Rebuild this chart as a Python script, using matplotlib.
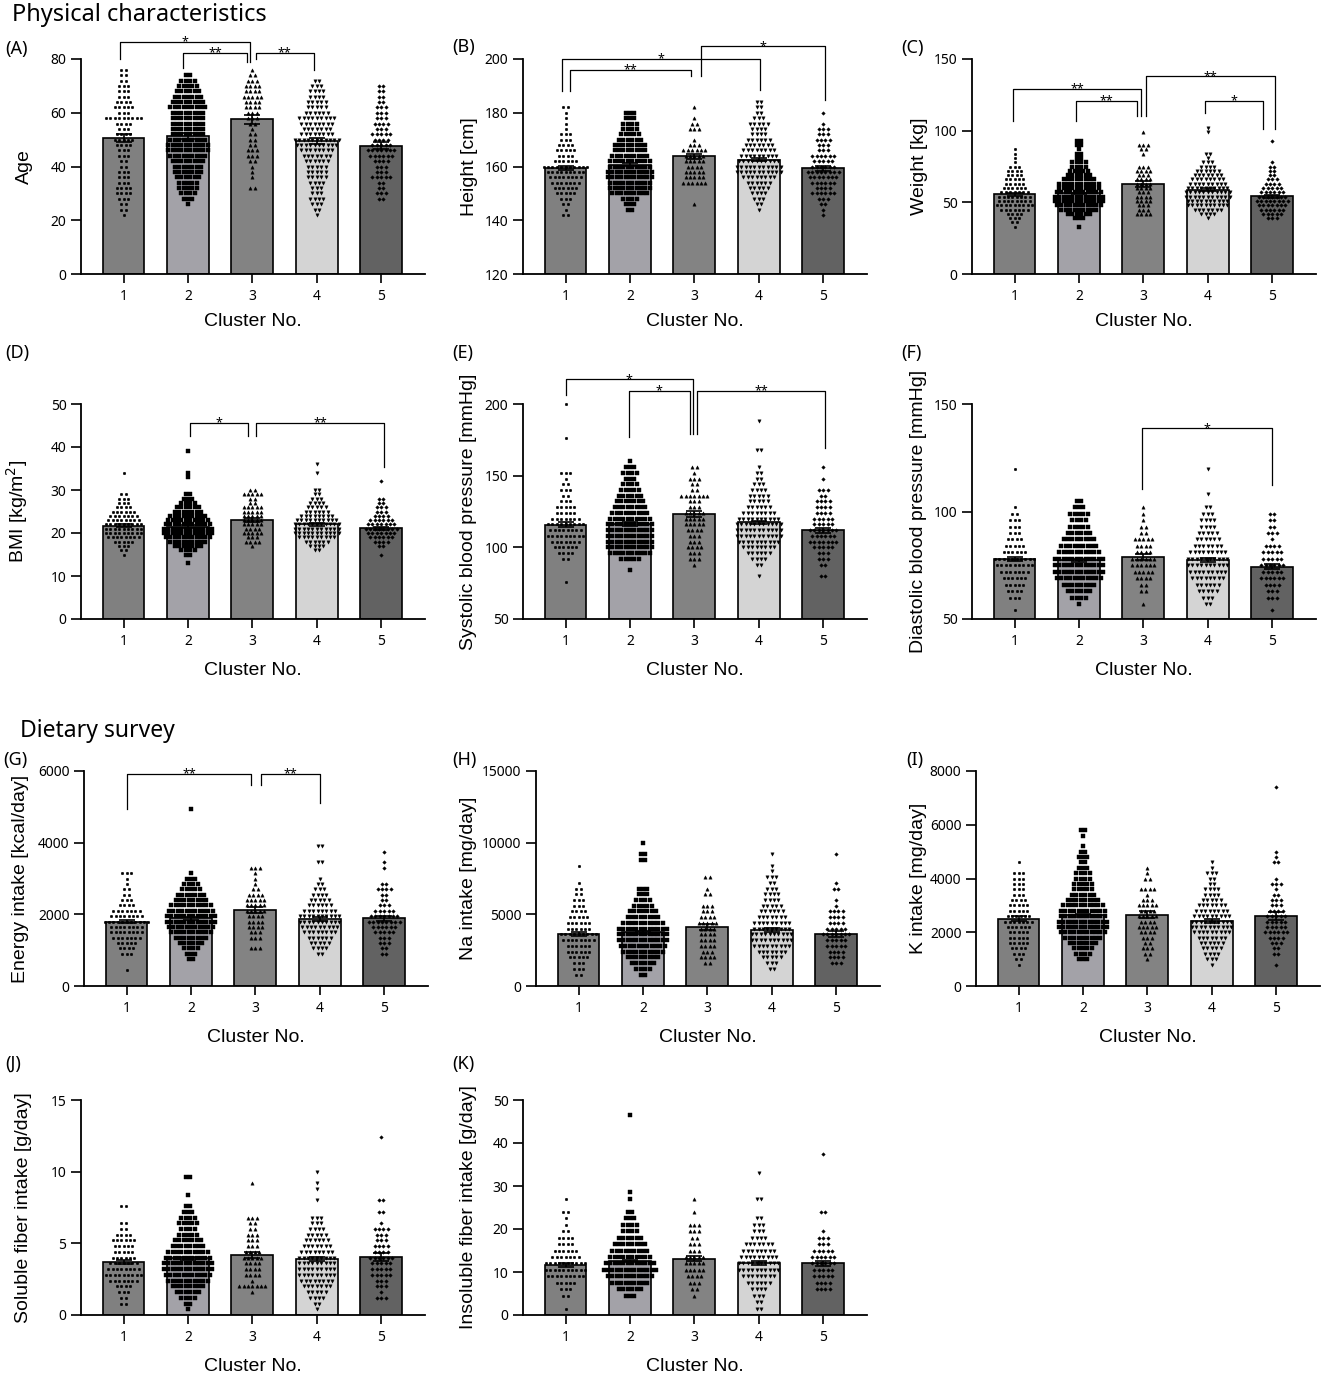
import matplotlib.pyplot as plt
import numpy as np

W, H = 1325, 1379

clusters = [1, 2, 3, 4, 5]
bar_colors = ["#808080", "#a3a2a8", "#838383", "#d4d4d4", "#626262"]
markers = ["o", "s", "^", "v", "D"]
marker_sizes = [1.9, 2.3, 2.4, 2.4, 1.8]

# %% Data (swarm rows: count of dots per value row, first row value per cluster)

age_step = 2
age_lo = [22, 26, 32, 22, 28]
age_n = [
    [1, 2, 2, 3, 4, 4, 3, 3, 3, 2, 2, 3, 3, 4, 5, 4, 3, 4, 9, 3, 5, 4, 3, 3, 3, 2, 2, 2],
    [1, 3, 4, 5, 5, 6, 7, 7, 8, 9, 10, 10, 9, 8, 8, 8, 8, 8, 9, 8, 7, 6, 5, 4, 2],
    [2, 0, 1, 1, 1, 2, 3, 3, 2, 2, 2, 1, 2, 3, 3, 4, 4, 5, 4, 4, 3, 2, 1],
    [1, 2, 3, 4, 3, 3, 4, 5, 5, 5, 6, 7, 8, 10, 11, 8, 7, 8, 9, 6, 5, 5, 4, 4, 3, 2],
    [2, 3, 2, 2, 5, 3, 3, 4, 6, 7, 5, 4, 5, 3, 4, 3, 3, 3, 2, 2, 2, 2],
]
age_mean = [50.5, 51.3, 57.5, 49.6, 47.7]
age_sem = [1.5, 1.0, 1.7, 1.1, 1.3]

height_step = 2
height_lo = [142, 144, 146, 144, 142]
height_n = [
    [2, 1, 2, 3, 5, 6, 7, 8, 9, 11, 6, 4, 5, 4, 3, 3, 1, 1, 1, 1, 2],
    [2, 3, 4, 9, 10, 10, 11, 11, 10, 10, 9, 8, 8, 6, 5, 4, 4, 3, 3],
    [1, 0, 0, 0, 6, 5, 5, 4, 5, 5, 6, 3, 1, 0, 3, 2, 1, 0, 1],
    [1, 2, 3, 4, 5, 6, 8, 11, 11, 10, 9, 8, 7, 6, 4, 4, 5, 3, 2, 2, 2],
    [1, 1, 2, 3, 6, 4, 6, 7, 8, 6, 5, 6, 3, 3, 4, 3, 3, 1, 0, 1],
]
height_mean = [159.5, 160.7, 163.8, 162.6, 159.4]
height_sem = [0.7, 0.5, 1.0, 0.6, 0.9]

weight_step = 3
weight_lo = [33, 33, 42, 39, 39]
weight_n = [
    [1, 2, 3, 4, 7, 9, 8, 8, 7, 6, 5, 5, 4, 4, 3, 1, 1, 1, 1],
    [1, 0, 3, 6, 9, 11, 12, 12, 11, 10, 10, 8, 6, 5, 4, 4, 2, 2, 1, 2, 2],
    [4, 3, 3, 4, 4, 3, 4, 4, 4, 3, 4, 3, 0, 0, 1, 2, 3, 0, 0, 1],
    [1, 4, 7, 10, 10, 11, 11, 10, 9, 8, 7, 6, 4, 3, 1, 2, 0, 0, 0, 0, 1, 1],
    [3, 5, 6, 7, 8, 7, 6, 5, 4, 3, 2, 2, 2, 1, 0, 0, 0, 0, 1],
]
weight_mean = [55.5, 56.2, 62.8, 58.9, 54.3]
weight_sem = [1.0, 0.6, 1.8, 0.8, 1.0]

bmi_step = 1
bmi_lo = [15, 13, 17, 16, 15]
bmi_n = [
    [1, 2, 3, 5, 8, 9, 9, 9, 8, 7, 6, 4, 3, 3, 2, 0, 0, 0, 0, 1],
    [1, 0, 2, 4, 7, 9, 11, 12, 12, 11, 10, 9, 7, 6, 4, 3, 2, 0, 0, 0, 1, 1, 0, 0, 0, 0, 1],
    [1, 4, 3, 5, 4, 5, 5, 5, 5, 5, 2, 2, 5, 2],
    [2, 4, 6, 9, 11, 11, 11, 10, 8, 6, 5, 4, 3, 2, 2, 0, 0, 0, 1, 0, 1],
    [1, 0, 2, 4, 6, 7, 8, 7, 6, 4, 3, 3, 2, 2, 0, 0, 0, 1],
]
bmi_mean = [21.7, 21.5, 23.1, 22.0, 21.1]
bmi_sem = [0.35, 0.25, 0.45, 0.3, 0.4]

sbp_step = 4
sbp_lo = [76, 84, 88, 80, 80]
sbp_n = [
    [1, 0, 0, 0, 2, 4, 6, 7, 9, 8, 9, 7, 5, 5, 3, 2, 3, 2, 1, 3, 0, 0, 0, 0, 0, 1, 0, 0, 0, 0, 0, 1],
    [1, 0, 5, 10, 11, 11, 11, 11, 11, 10, 9, 8, 7, 6, 5, 4, 3, 4, 3, 1],
    [1, 3, 3, 4, 3, 3, 4, 5, 5, 5, 3, 3, 7, 2, 2, 3, 1, 2],
    [1, 0, 2, 4, 6, 8, 10, 11, 11, 11, 10, 8, 6, 5, 5, 4, 3, 2, 2, 1, 0, 0, 2, 0, 0, 0, 0, 1],
    [2, 0, 2, 3, 3, 5, 7, 6, 7, 5, 5, 4, 4, 4, 2, 3, 0, 1, 0, 1],
]
sbp_mean = [115.8, 116.3, 123.5, 117.4, 112.0]
sbp_sem = [1.6, 1.1, 2.0, 1.3, 1.7]

dbp_step = 3
dbp_lo = [54, 57, 57, 57, 54]
dbp_n = [
    [1, 0, 3, 4, 5, 6, 7, 9, 10, 6, 5, 4, 3, 3, 3, 2, 1, 0, 0, 0, 0, 0, 1],
    [1, 4, 6, 8, 11, 12, 12, 12, 10, 9, 8, 6, 5, 4, 5, 3, 2],
    [1, 0, 2, 2, 4, 5, 6, 6, 4, 4, 5, 2, 2, 1, 1, 1],
    [2, 3, 5, 6, 8, 9, 10, 10, 9, 7, 6, 5, 4, 4, 3, 2, 0, 1, 0, 0, 0, 1],
    [1, 0, 3, 3, 4, 6, 5, 6, 5, 5, 4, 1, 3, 2, 2, 2],
]
dbp_mean = [77.8, 77.3, 78.8, 77.4, 74.3]
dbp_sem = [1.0, 0.7, 1.3, 0.9, 1.2]

energy_step = 150
energy_lo = [450, 750, 1050, 900, 900]
energy_n = [
    [1, 0, 0, 3, 4, 5, 7, 8, 8, 11, 8, 7, 4, 3, 2, 2, 1, 1, 3],
    [2, 3, 4, 6, 8, 10, 11, 12, 12, 11, 10, 8, 7, 5, 4, 3, 1,
     0, 0, 0, 0, 0, 0, 0, 0, 0, 0, 0, 1],
    [3, 0, 3, 3, 4, 4, 4, 5, 5, 5, 4, 2, 1, 1, 1, 3],
    [2, 4, 5, 6, 8, 9, 10, 10, 8, 6, 5, 4, 3, 2, 1, 0, 0, 2, 0, 0, 2],
    [2, 2, 3, 3, 5, 6, 8, 7, 5, 3, 2, 2, 4, 2, 0, 0, 1, 1, 0, 1],
]
energy_mean = [1800, 1890, 2120, 1870, 1890]
energy_sem = [50, 35, 80, 45, 70]

na_step = 400
na_lo = [800, 800, 1600, 1200, 1600]
na_n = [
    [2, 3, 3, 5, 6, 6, 8, 9, 6, 6, 5, 4, 3, 3, 2, 2, 1, 0, 0, 1],
    [2, 4, 6, 8, 10, 11, 12, 12, 12, 10, 8, 7, 5, 4, 3, 3, 0, 0, 0, 0, 2, 2, 0, 1],
    [2, 4, 3, 4, 4, 4, 4, 5, 4, 3, 3, 0, 2, 1, 0, 2],
    [2, 3, 5, 7, 9, 10, 10, 9, 9, 7, 6, 5, 4, 4, 3, 2, 3, 1, 1, 0, 1],
    [3, 4, 4, 5, 5, 7, 5, 4, 4, 4, 1, 1, 0, 2, 1, 0, 0, 0, 0, 1],
]
na_mean = [3650, 3745, 4095, 3905, 3650]
na_sem = [150, 110, 200, 150, 200]

k_step = 200
k_lo = [800, 1000, 1000, 800, 800]
k_n = [
    [1, 2, 3, 4, 5, 5, 5, 6, 7, 6, 5, 5, 4, 3, 3, 3, 3, 3, 0, 1],
    [3, 4, 5, 7, 9, 11, 12, 12, 11, 11, 10, 8, 6, 5, 5, 4, 4, 3, 2, 3, 2, 1, 0, 1, 2],
    [1, 2, 3, 2, 3, 4, 5, 4, 5, 4, 5, 3, 1, 4, 0, 2, 1, 1],
    [1, 3, 4, 5, 6, 7, 9, 10, 10, 9, 8, 7, 5, 4, 4, 2, 2, 3, 1, 1],
    [1, 0, 2, 2, 3, 4, 6, 5, 5, 5, 4, 3, 3, 2, 1, 3, 1, 0, 0, 2, 1, 1,
     0, 0, 0, 0, 0, 0, 0, 0, 0, 0, 0, 1],
]
k_mean = [2500, 2625, 2650, 2430, 2600]
k_sem = [90, 60, 130, 80, 140]

sol_step = 0.4
sol_lo = [0.8, 0.4, 1.6, 0.4, 1.2]
sol_n = [
    [2, 2, 3, 4, 7, 9, 8, 7, 6, 5, 5, 6, 4, 2, 2, 0, 0, 2],
    [1, 2, 4, 6, 8, 10, 11, 12, 12, 11, 10, 8, 7, 5, 4, 5, 4, 3, 2, 0, 1, 0, 0, 2],
    [1, 7, 1, 4, 4, 4, 5, 4, 3, 3, 3, 2, 2, 3, 0, 0, 0, 0, 0, 1],
    [1, 2, 4, 5, 7, 8, 9, 9, 9, 9, 8, 7, 6, 5, 4, 3, 3, 0, 0, 1, 0, 1, 1, 0, 1],
    [3, 1, 3, 3, 5, 5, 5, 6, 4, 4, 3, 3, 4, 1, 0, 2, 0, 2,
     0, 0, 0, 0, 0, 0, 0, 0, 0, 0, 1],
]
sol_mean = [3.7, 3.95, 4.2, 3.9, 4.05]
sol_sem = [0.15, 0.1, 0.22, 0.13, 0.25]

insol_step = 1.5
insol_lo = [1.5, 4.5, 4.5, 1.5, 6.0]
insol_n = [
    [1, 0, 2, 3, 5, 9, 10, 10, 7, 6, 4, 4, 2, 1, 1, 2, 0, 1],
    [3, 6, 9, 11, 13, 12, 10, 9, 8, 6, 4, 4, 3, 2, 0, 1, 1,
     0, 0, 0, 0, 0, 0, 0, 0, 0, 0, 0, 1],
    [1, 2, 3, 4, 5, 5, 5, 3, 3, 2, 3, 3, 0, 1, 0, 1],
    [2, 2, 3, 4, 6, 8, 10, 10, 9, 8, 7, 4, 3, 3, 2, 0, 0, 2, 0, 0, 0, 1],
    [4, 4, 5, 5, 6, 6, 5, 3, 3, 1, 0, 0, 2, 0, 0, 0, 0, 0, 0, 0, 0, 1],
]
insol_mean = [11.6, 12.6, 13.1, 12.1, 12.0]
insol_sem = [0.45, 0.3, 0.6, 0.4, 0.5]

# significance brackets: left x, right x, top, left leg end, right leg end, label
age_brk = [(0.95, 2.97, 86.3, 80, 79, "*"), (1.92, 2.92, 82.2, 76.6, 79, "**"),
           (3.05, 3.95, 82.2, 80, 76, "**")]
height_brk = [(0.94, 4.02, 200.0, 188, 188.6, "*"), (1.07, 2.95, 196, 188, 193.6, "**"),
              (3.1, 5.03, 204.7, 193.6, 184.9, "*")]
weight_brk = [(0.97, 2.97, 129, 107, 110, "**"), (1.95, 2.9, 120.8, 107, 110, "**"),
              (3.04, 5.05, 137.9, 110, 101, "**"), (3.95, 4.86, 120.8, 112, 101, "*")]
bmi_brk = [(2.03, 2.94, 45.6, 42.5, 42.5, "*"), (3.05, 5.05, 45.6, 42.5, 35.3, "**")]
sbp_brk = [(1.0, 2.98, 217.2, 206.3, 179, "*"), (1.98, 2.93, 209.3, 176.7, 179, "*"),
           (3.04, 5.03, 209.3, 179, 169, "**")]
dbp_brk = [(2.98, 5.0, 138.7, 110.3, 112.3, "*")]
energy_brk = [(1.0, 2.94, 5916, 4938, 5609, "**"), (3.09, 4.0, 5916, 5609, 5096, "**")]

# %% Layout

plt.rcParams["font.family"] = ["Noto Sans", "DejaVu Sans"]
plt.rcParams["axes.linewidth"] = 1.3

fig = plt.figure(figsize=(W / 100, H / 100), dpi=100)

row_tops = [59, 404, 771, 1100]
col_lefts = {0: [81, 523, 972], 1: [81, 523, 972], 2: [84, 536, 976], 3: [81, 523, 972]}
xlabel_y = [-0.18, -0.2, -0.2, -0.2]
ax_w, ax_h = 344, 215

panels = [
    ("(A)", 0, 0, "Age", (0, 80), [0, 20, 40, 60, 80], 33,
     age_step, age_lo, age_n, age_mean, age_sem, age_brk),
    ("(B)", 0, 1, "Height [cm]", (120, 200), [120, 140, 160, 180, 200], 478,
     height_step, height_lo, height_n, height_mean, height_sem, height_brk),
    ("(C)", 0, 2, "Weight [kg]", (0, 150), [0, 50, 100, 150], 928,
     weight_step, weight_lo, weight_n, weight_mean, weight_sem, weight_brk),
    ("(D)", 1, 0, r"BMI [kg/m$^2$]", (0, 50), [0, 10, 20, 30, 40, 50], 30,
     bmi_step, bmi_lo, bmi_n, bmi_mean, bmi_sem, bmi_brk),
    ("(E)", 1, 1, "Systolic blood pressure [mmHg]", (50, 200), [50, 100, 150, 200], 477,
     sbp_step, sbp_lo, sbp_n, sbp_mean, sbp_sem, sbp_brk),
    ("(F)", 1, 2, "Diastolic blood pressure [mmHg]", (50, 150), [50, 100, 150], 927,
     dbp_step, dbp_lo, dbp_n, dbp_mean, dbp_sem, dbp_brk),
    ("(G)", 2, 0, "Energy intake [kcal/day]", (0, 6000), [0, 2000, 4000, 6000], 29,
     energy_step, energy_lo, energy_n, energy_mean, energy_sem, energy_brk),
    ("(H)", 2, 1, "Na intake [mg/day]", (0, 15000), [0, 5000, 10000, 15000], 477,
     na_step, na_lo, na_n, na_mean, na_sem, []),
    ("(I)", 2, 2, "K intake [mg/day]", (0, 8000), [0, 2000, 4000, 6000, 8000], 927,
     k_step, k_lo, k_n, k_mean, k_sem, []),
    ("(J)", 3, 0, "Soluble fiber intake [g/day]", (0, 15), [0, 5, 10, 15], 32,
     sol_step, sol_lo, sol_n, sol_mean, sol_sem, []),
    ("(K)", 3, 1, "Insoluble fiber intake [g/day]", (0, 50), [0, 10, 20, 30, 40, 50], 477,
     insol_step, insol_lo, insol_n, insol_mean, insol_sem, []),
]

tag_pos = {0: [(5, 49), (452, 47), (901, 48)], 1: [(5, 353), (452, 353), (901, 353)],
           2: [(3, 760), (452, 760), (906, 760)], 3: [(5, 1064), (452, 1064)]}

DX = 0.068
BAR_W = 0.65

for tag, r, c, ylabel, ylim, yticks, ylab_px, step, lo, counts, mean, sem, brk in panels:
    left = col_lefts[r][c]
    ax = fig.add_axes([left / W, 1 - (row_tops[r] + ax_h) / H, ax_w / W, ax_h / H])
    base = ylim[0]

    ax.bar(clusters, np.array(mean) - base, bottom=base, width=BAR_W,
           color=bar_colors, edgecolor="black", linewidth=1.2, zorder=1)

    for i, xc in enumerate(clusters):
        xs, ys = [], []
        for k, n in enumerate(counts[i]):
            v = lo[i] + k * step
            for j in range(n):
                xs.append(xc + (j - (n - 1) / 2) * DX)
                ys.append(v)
        ax.plot(xs, ys, ls="none", marker=markers[i], ms=marker_sizes[i],
                mfc="black", mec="black", mew=0.3, zorder=3, clip_on=False)

    ax.errorbar(clusters, mean, yerr=sem, fmt="none", ecolor="black",
                elinewidth=1.2, capsize=6, capthick=1.2, zorder=4)

    for xl, xr, top, yl, yr, label in brk:
        ax.plot([xl, xl, xr, xr], [yl, top, top, yr], color="black", lw=0.9,
                clip_on=False, zorder=5)
        ax.text((xl + xr) / 2, top, label, ha="center", va="center",
                fontsize=9, clip_on=False)

    ax.set_xlim(0.34, 5.68)
    ax.set_ylim(*ylim)
    ax.set_xticks(clusters)
    ax.set_yticks(yticks)
    ax.spines[["top", "right"]].set_visible(False)
    ax.tick_params(axis="x", length=6.5, width=1.2, pad=4, labelsize=10)
    ax.tick_params(axis="y", length=7.5, width=1.2, pad=3, labelsize=10)

    ax.set_ylabel(ylabel, family="Liberation Sans", fontsize=14)
    ax.yaxis.set_label_coords((ylab_px - left) / ax_w, 0.5)
    ax.set_xlabel("Cluster No.", family="Liberation Sans", fontsize=14)
    ax.xaxis.set_label_coords(0.5, xlabel_y[r])

    tx, ty = tag_pos[r][c]
    fig.text(tx / W, 1 - ty / H, tag, ha="left", va="center", fontsize=13)

fig.text(12 / W, 1 - 15 / H, "Physical characteristics", ha="left", va="center", fontsize=17)
fig.text(20 / W, 1 - 731 / H, "Dietary survey", ha="left", va="center", fontsize=16.5)

fig.savefig("out.png", dpi=100)
